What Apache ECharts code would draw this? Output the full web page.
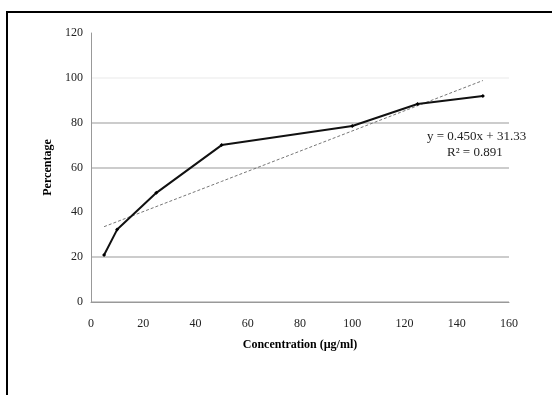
<!DOCTYPE html>
<html>
<head>
<meta charset="utf-8">
<script src="https://cdn.jsdelivr.net/npm/echarts@6/dist/echarts.min.js"></script>
<style>
html,body{margin:0;padding:0;background:#fff;}
#main{width:552px;height:395px;}
</style>
</head>
<body>
<div id="main"></div>
<script>
var concentration = [5, 10, 25, 50, 100, 125, 150];
var percentage = [21, 32.3, 48.7, 70, 78.5, 88.3, 91.9];
var trendX = [5, 50, 150];
var trendY = [33.6, 53.8, 98.8];
var xTicks = [0, 20, 40, 60, 80, 100, 120, 140, 160];
var yTicks = [0, 20, 40, 60, 80, 100, 120];
var equationText = 'y = 0.450x + 31.33';
var r2Text = 'R² = 0.891';

var chart = echarts.init(document.getElementById('main'), null, {renderer: 'canvas'});
var serif = '"Liberation Serif", "DejaVu Serif", serif';
var mainData = concentration.map(function (c, i) { return [c, percentage[i]]; });
var trendData = trendX.map(function (c, i) { return [c, trendY[i]]; });

chart.setOption({
  animation: false,
  backgroundColor: '#fff',
  grid: {left: 91, top: 33, right: 43, bottom: 93, containLabel: false},
  xAxis: {
    type: 'value', min: 0, max: 160, interval: 20,
    name: 'Concentration (µg/ml)', nameLocation: 'middle', nameGap: 37,
    nameTextStyle: {fontFamily: serif, fontSize: 12, fontWeight: 'bold', color: '#000'},
    axisLine: {show: true, lineStyle: {color: '#999', width: 1}},
    axisTick: {show: false},
    axisLabel: {fontFamily: serif, fontSize: 12, color: '#222', margin: 16},
    splitLine: {show: false}
  },
  yAxis: {
    type: 'value', min: 0, max: 120, interval: 20,
    name: 'Percentage', nameLocation: 'middle', nameGap: 36, nameRotate: 90,
    nameTextStyle: {fontFamily: serif, fontSize: 12, fontWeight: 'bold', color: '#000'},
    axisLine: {show: true, lineStyle: {color: '#999', width: 1}},
    axisTick: {show: false},
    axisLabel: {fontFamily: serif, fontSize: 12, color: '#222', margin: 8},
    splitLine: {show: true, lineStyle: {color: ['#bbb', '#bbb', 'rgba(0,0,0,0)', '#bbb', '#bbb', '#f0f0f0', 'rgba(0,0,0,0)'], width: 1.5}}
  },
  series: [
    {
      type: 'line', data: trendData, symbol: 'none', silent: true,
      lineStyle: {color: '#777', width: 1, type: [3, 2]}, z: 2
    },
    {
      type: 'line', data: mainData, symbol: 'diamond', symbolSize: 4,
      itemStyle: {color: '#000'},
      lineStyle: {color: '#111', width: 2}, z: 3
    }
  ],
  graphic: [
    {type: 'rect', shape: {x: 7, y: 12, width: 560, height: 400}, style: {fill: 'none', stroke: '#000', lineWidth: 2}, silent: true},
    {type: 'text', left: 427, top: 130, style: {text: equationText, font: '13px ' + serif, fill: '#222'}},
    {type: 'text', left: 447, top: 146, style: {text: r2Text, font: '13px ' + serif, fill: '#222'}}
  ]
});
</script>
</body>
</html>
